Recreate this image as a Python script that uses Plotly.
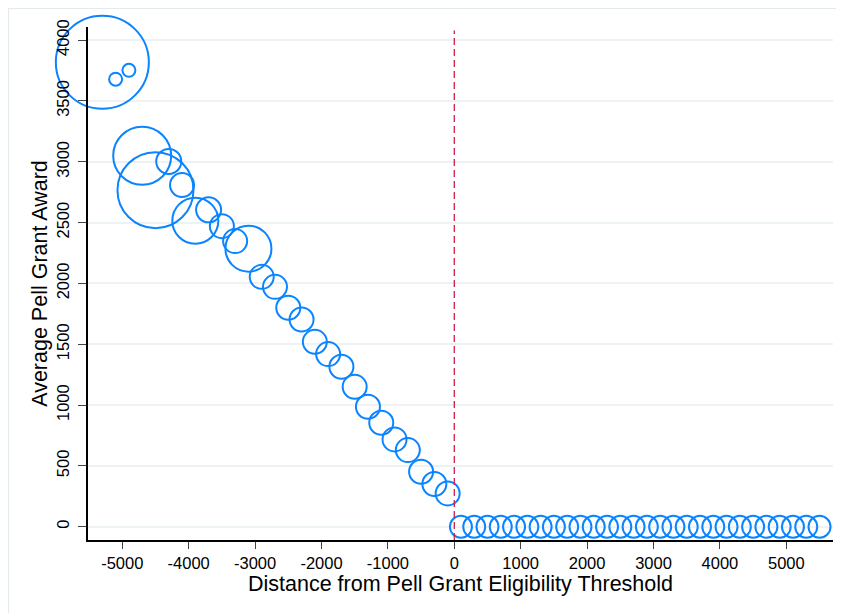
import plotly.graph_objects as go

# Binned distance from eligibility threshold (bin centres)
dist_left = [-5300, -5100, -4900, -4700, -4500, -4300, -4100, -3900, -3700,
             -3500, -3300, -3100, -2900, -2700, -2500, -2300, -2100, -1900,
             -1700, -1500, -1300, -1100, -900, -700, -500, -300, -100]
award_left = [3818, 3679, 3752, 3050, 2767, 3003, 2809, 2516, 2605,
              2471, 2348, 2286, 2054, 1972, 1800, 1704, 1520, 1419,
              1315, 1150, 986, 855, 718, 630, 452, 351, 274]
weight_left = [95, 15, 15, 60, 78, 27, 26, 48, 27,
               26, 26, 48, 26, 26, 26, 26, 26, 26,
               26, 26, 26, 26, 26, 26, 26, 26, 26]

dist_right = [100, 300, 500, 700, 900, 1100, 1300, 1500, 1700, 1900,
              2100, 2300, 2500, 2700, 2900, 3100, 3300, 3500, 3700, 3900,
              4100, 4300, 4500, 4700, 4900, 5100, 5300, 5500]
award_right = [0, 0, 0, 0, 0, 0, 0, 0, 0, 0,
               0, 0, 0, 0, 0, 0, 0, 0, 0, 0,
               0, 0, 0, 0, 0, 0, 0, 0]
weight_right = [24] * len(dist_right)

x_ticks = [-5000, -4000, -3000, -2000, -1000, 0, 1000, 2000, 3000, 4000, 5000]
y_ticks = [0, 500, 1000, 1500, 2000, 2500, 3000, 3500, 4000]

BLUE = "#0a84ff"
LW = 2

x_all = dist_left + dist_right
y_all = award_left + award_right
s_all = [w - LW for w in weight_left + weight_right]

fig = go.Figure()
fig.add_trace(go.Scatter(
    x=x_all, y=y_all, mode="markers", cliponaxis=False,
    marker=dict(symbol="circle", size=s_all, sizemode="diameter",
                color="rgba(0,0,0,0)", opacity=1,
                line=dict(color=BLUE, width=LW)),
    hoverinfo="x+y", showlegend=False,
))

fig.add_shape(type="line", xref="x", yref="y", x0=0, x1=0, y0=-109, y1=4080,
              line=dict(color="#d01c4b", width=1.3, dash="7px,4px"))

# outer light frame
fig.add_shape(type="rect", xref="paper", yref="paper",
              x0=-0.1067, x1=1.05, y0=-0.25, y1=1.0361,
              line=dict(color="#e3eaee", width=1.2), fillcolor="rgba(0,0,0,0)",
              layer="below")

font = "Liberation Sans, Arial, Helvetica, sans-serif"
fig.update_layout(
    width=844, height=613,
    margin=dict(l=80, r=19, t=19, b=81, autoexpand=False),
    paper_bgcolor="white", plot_bgcolor="white",
    font=dict(family=font, color="black"),
    xaxis=dict(
        range=[-5516, 5703], tickvals=x_ticks, automargin=False,
        ticktext=[str(v) for v in x_ticks],
        showgrid=False, zeroline=False,
        showline=True, linecolor="black", linewidth=1.5,
        ticks="outside", ticklen=7, tickwidth=1.3, tickcolor="#444",
        tickfont=dict(size=16.5, family=font, color="black"),
        title=dict(text="Distance from Pell Grant Eligibility Threshold",
                   font=dict(size=21.5, family=font, color="black"), standoff=1),
    ),
    yaxis=dict(
        range=[-109, 4108], tickvals=y_ticks, automargin=False,
        ticktext=[str(v) for v in y_ticks],
        showgrid=True, gridcolor="#edf2f4", gridwidth=1.5,
        zeroline=False,
        showline=True, linecolor="black", linewidth=1.5,
        ticks="outside", ticklen=8, tickwidth=1.3, tickcolor="#444",
        tickangle=-90, ticklabelstandoff=3,
        tickfont=dict(size=16.5, family=font, color="black"),
        title=dict(text="Average Pell Grant Award",
                   font=dict(size=21.5, family=font, color="black"), standoff=0),
    ),
)

fig.write_html("out.html")
